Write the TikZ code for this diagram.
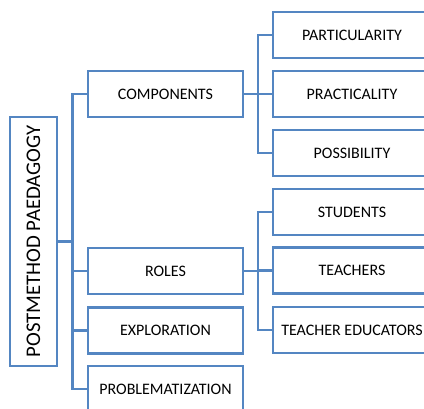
\documentclass[tikz,border=0pt]{standalone}
\usepackage{fontspec}
\setmainfont{Carlito}
\definecolor{lineblue}{RGB}{84,134,194}
\tikzset{
  box/.style={draw=lineblue, line width=2.3pt, fill=white, rectangle, inner sep=0pt,
    minimum height=46pt, font=\fontsize{16}{19}\selectfont, text=black},
  rootbox/.style={box, minimum width=249pt, minimum height=47pt, rotate=90,
    font=\fontsize{20.8}{24}\selectfont},
  conn/.style={draw=lineblue, line width=2.3pt}
}
\begin{document}
\begin{tikzpicture}[x=1pt,y=1pt]
\useasboundingbox (0,0) rectangle (424,408);
\node[rootbox] (root) at (33.5,166.5) {POSTMETHOD PAEDAGOGY};
\node[box, minimum width=155pt] (comp) at (165.5,314) {COMPONENTS};
\node[box, minimum width=155pt] (roles) at (165.5,137) {ROLES};
\node[box, minimum width=155pt] (expl) at (165.5,77.5) {EXPLORATION};
\node[box, minimum width=155pt] (prob) at (165.5,19) {PROBLEMATIZATION};
\node[box, minimum width=158pt] (part) at (352,373) {PARTICULARITY};
\node[box, minimum width=158pt] (prac) at (352,314) {PRACTICALITY};
\node[box, minimum width=158pt] (poss) at (352,255) {POSSIBILITY};
\node[box, minimum width=158pt] (stud) at (352,196) {STUDENTS};
\node[box, minimum width=158pt] (teach) at (352,137.5) {TEACHERS};
\node[box, minimum width=158pt] (teached) at (352,78) {TEACHER EDUCATORS};
\coordinate (t) at (72.5,0);
\coordinate (b) at (258,0);
\draw[conn] (root.south) -- (root.south -| t);
\draw[conn] (comp.west) -- (comp.west -| t) -- (prob.west -| t) -- (prob.west);
\draw[conn] (roles.west) -- (roles.west -| t);
\draw[conn] (expl.west) -- (expl.west -| t);
\draw[conn] (comp.east) -- (comp.east -| b);
\draw[conn] (part.west) -- (part.west -| b) -- (poss.west -| b) -- (poss.west);
\draw[conn] (prac.west) -- (prac.west -| b);
\draw[conn] (roles.east) -- (roles.east -| b);
\draw[conn] (stud.west) -- (stud.west -| b) -- (teached.west -| b) -- (teached.west);
\draw[conn] (teach.west) -- (teach.west -| b);
\end{tikzpicture}
\end{document}
